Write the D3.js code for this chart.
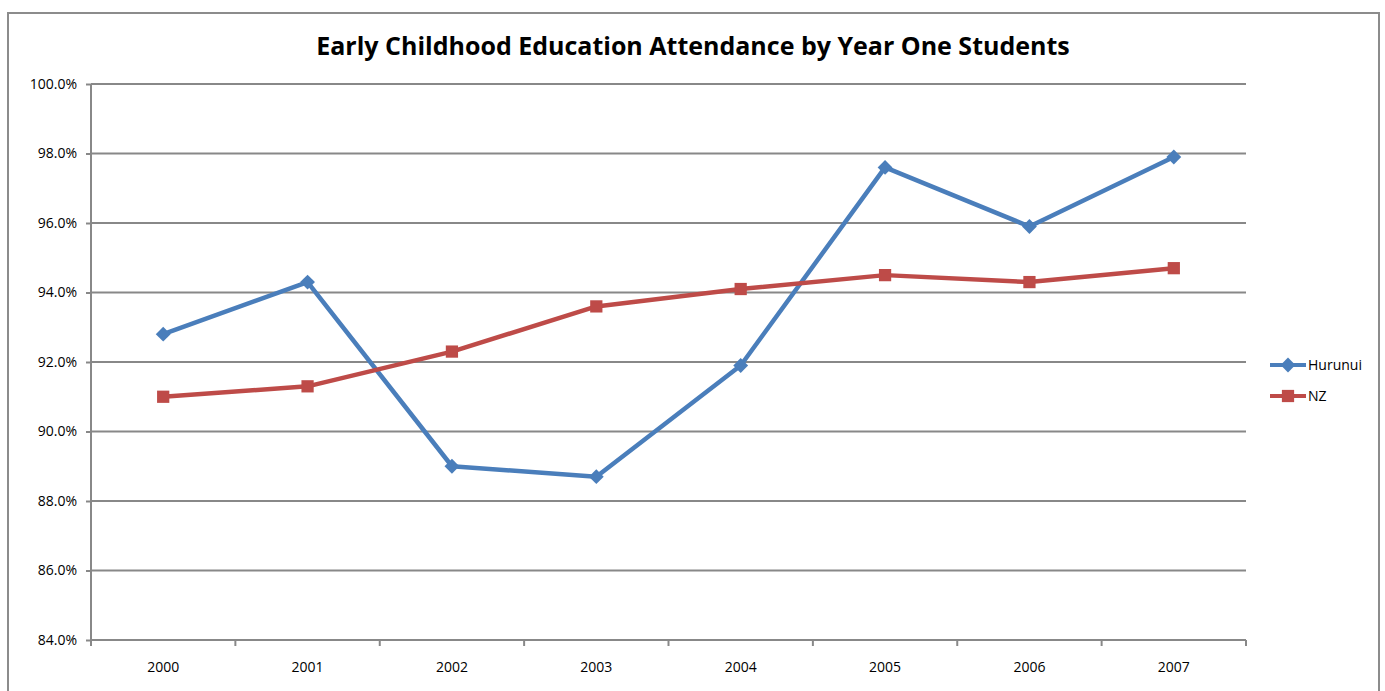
<!DOCTYPE html>
<html>
<head>
<meta charset="utf-8">
<script src="https://cdn.jsdelivr.net/npm/d3@7"></script>
<style>
  html, body { margin: 0; padding: 0; background: #fff; }
  svg { display: block; }
</style>
</head>
<body>
<svg id="chart" width="1385" height="691"></svg>
<script>
// Year-one students who attended early childhood education (%)
const years = ["2000", "2001", "2002", "2003", "2004", "2005", "2006", "2007"];
const hurunui = [92.8, 94.3, 89.0, 88.7, 91.9, 97.6, 95.9, 97.9];
const nz = [91.0, 91.3, 92.3, 93.6, 94.1, 94.5, 94.3, 94.7];
const yTicks = [84, 86, 88, 90, 92, 94, 96, 98, 100];
const seriesNames = ["Hurunui", "NZ"];
const seriesColors = ["#4a7ebb", "#be4b48"];

const svg = d3.select("#chart");
const font = "'Open Sans', sans-serif";
const gridColor = "#888888";

// chart frame
svg.append("rect")
  .attr("x", 8).attr("y", 13).attr("width", 1371).attr("height", 700)
  .attr("fill", "#fff").attr("stroke", "#8c8c8c").attr("stroke-width", 2);

const plot = { left: 91, top: 84, right: 1246, bottom: 640 };

const x = d3.scaleBand().domain(years).range([plot.left, plot.right]);
const y = d3.scaleLinear().domain([84, 100]).range([plot.bottom, plot.top]);

// title
svg.append("text")
  .attr("x", 693).attr("y", 55)
  .attr("text-anchor", "middle")
  .attr("font-family", "'Open Sans', sans-serif")
  .attr("font-weight", "bold")
  .attr("font-size", 25)
  .attr("fill", "#000")
  .text("Early Childhood Education Attendance by Year One Students");

// horizontal gridlines
svg.append("g").selectAll("line").data(yTicks.slice(1)).join("line")
  .attr("x1", plot.left).attr("x2", plot.right)
  .attr("y1", d => y(d)).attr("y2", d => y(d))
  .attr("stroke", gridColor).attr("stroke-width", 2);

// y axis
const yAxis = svg.append("g")
  .attr("transform", `translate(${plot.left},0)`)
  .call(d3.axisLeft(y).tickValues(yTicks).tickSize(5).tickPadding(9)
    .tickFormat(d => d.toFixed(1) + "%"));
yAxis.select(".domain").attr("stroke", gridColor).attr("stroke-width", 2)
  .attr("d", `M0,${plot.top}V${plot.bottom}`);
yAxis.selectAll(".tick line").attr("stroke", gridColor).attr("stroke-width", 2);
yAxis.selectAll(".tick text").attr("font-family", font).attr("font-size", 14).attr("fill", "#000");

// x axis: ticks between categories
const xAxisG = svg.append("g").attr("transform", `translate(0,${plot.bottom})`);
xAxisG.append("line")
  .attr("x1", plot.left).attr("x2", plot.right)
  .attr("stroke", gridColor).attr("stroke-width", 2);
const boundaries = years.map(d => x(d)).concat([x(years[years.length - 1]) + x.bandwidth()]);
xAxisG.selectAll("line.tk").data(boundaries).join("line")
  .attr("class", "tk")
  .attr("x1", d => d).attr("x2", d => d)
  .attr("y1", 0).attr("y2", 6)
  .attr("stroke", gridColor).attr("stroke-width", 2);
xAxisG.selectAll("text").data(years).join("text")
  .attr("x", d => x(d) + x.bandwidth() / 2)
  .attr("y", 32)
  .attr("text-anchor", "middle")
  .attr("font-family", font).attr("font-size", 14).attr("fill", "#000")
  .text(d => d);

const cx = d => x(d) + x.bandwidth() / 2;
const line = d3.line().x((d, i) => cx(years[i])).y(d => y(d));

const diamond = d3.symbol().type(d3.symbolDiamond2).size(140);
const square = d3.symbol().type(d3.symbolSquare).size(150);
const shapes = [diamond, square];

[hurunui, nz].forEach((vals, si) => {
  svg.append("path")
    .datum(vals)
    .attr("d", line)
    .attr("fill", "none")
    .attr("stroke", seriesColors[si])
    .attr("stroke-width", 4.5)
    .attr("stroke-linejoin", "round");
  svg.append("g").selectAll("path").data(vals).join("path")
    .attr("d", shapes[si]())
    .attr("transform", (d, i) => `translate(${cx(years[i])},${y(d)})`)
    .attr("fill", seriesColors[si]);
});

// legend
const legend = svg.append("g");
seriesNames.forEach((name, i) => {
  const ly = 365 + i * 31;
  legend.append("line")
    .attr("x1", 1270).attr("x2", 1306).attr("y1", ly).attr("y2", ly)
    .attr("stroke", seriesColors[i]).attr("stroke-width", 4);
  legend.append("path")
    .attr("d", shapes[i]())
    .attr("transform", `translate(1288,${ly})`)
    .attr("fill", seriesColors[i]);
  legend.append("text")
    .attr("x", 1308).attr("y", ly + 5)
    .attr("font-family", font).attr("font-size", 14).attr("fill", "#000")
    .text(name);
});
</script>
</body>
</html>
